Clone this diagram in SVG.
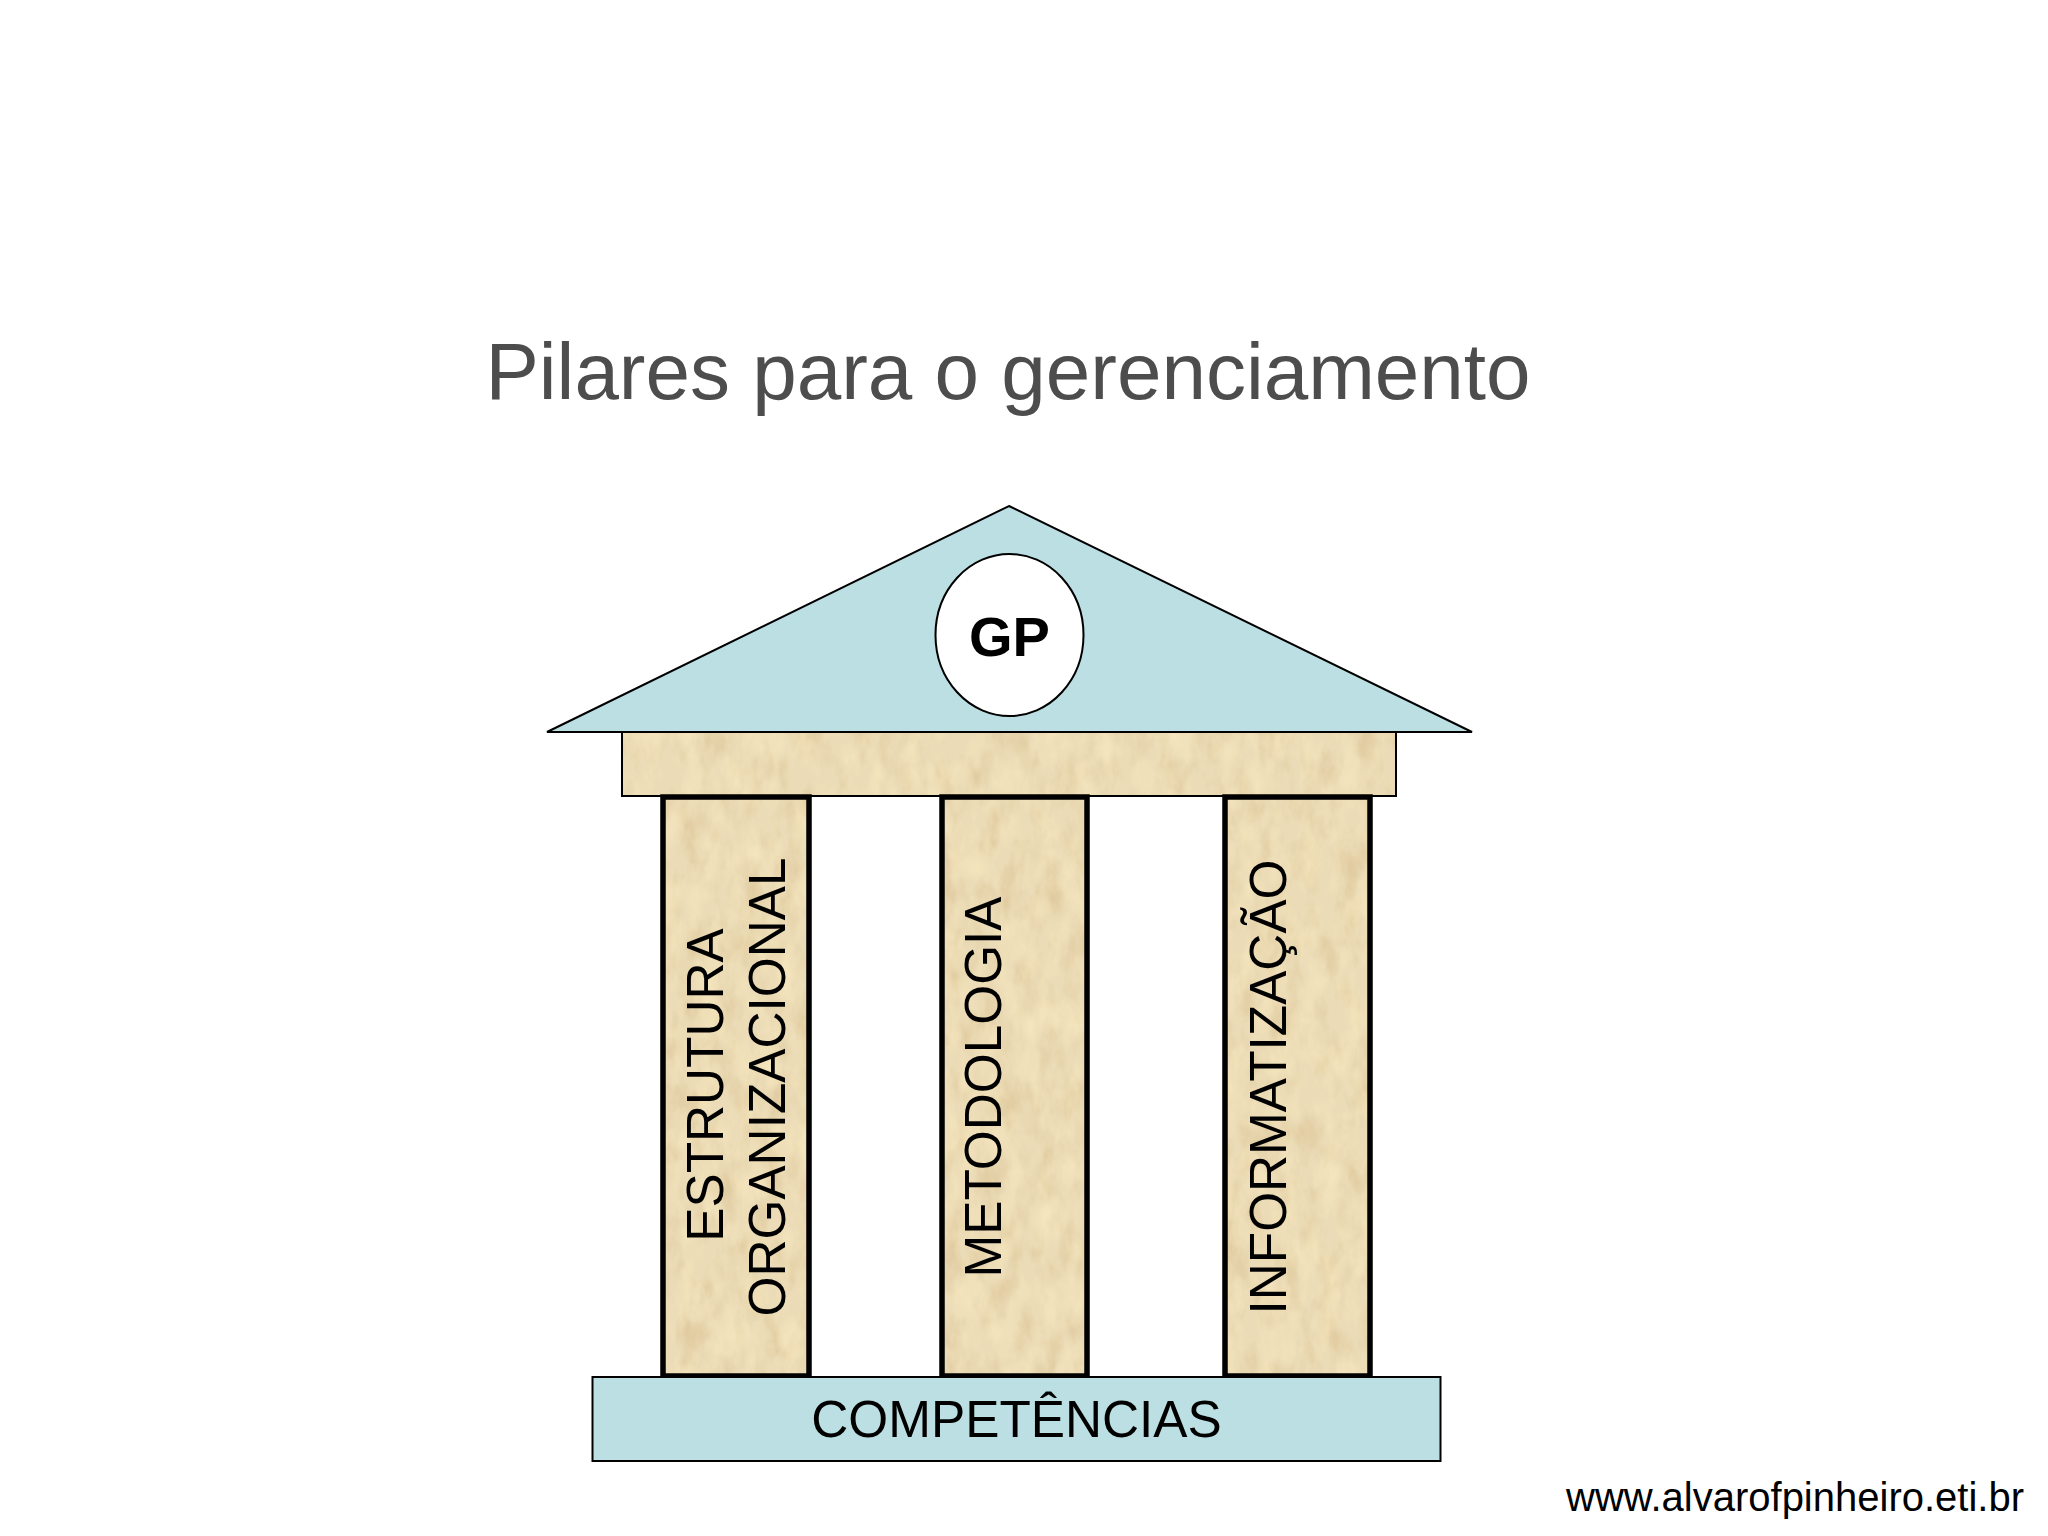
<svg xmlns="http://www.w3.org/2000/svg" width="2048" height="1536" viewBox="0 0 2048 1536">
<style>
text{font-family:"Liberation Sans",Arial,sans-serif;fill:#000}
.lbl{font-size:51.3px;text-anchor:middle}
.col{fill:none;stroke:#000;stroke-width:5.500}
.thin{stroke:#000;stroke-width:2}
.blue{fill:#bbdfe2}
.stone{fill:#ebdcb7}
</style>
<defs>
<filter id="stone" x="0" y="0" width="1" height="1" color-interpolation-filters="sRGB">
<feTurbulence type="fractalNoise" baseFrequency="0.05 0.025" numOctaves="4" seed="7" result="n"/>
<feColorMatrix in="n" type="matrix" values="0 0 0 0 0.85  0 0 0 0 0.74  0 0 0 0 0.55  1.2 0 0 0 -0.5" result="dark"/>
<feColorMatrix in="n" type="matrix" values="0 0 0 0 0.97  0 0 0 0 0.91  0 0 0 0 0.75  0 1.6 0 0 -0.65" result="light"/>
<feMerge result="m"><feMergeNode in="SourceGraphic"/><feMergeNode in="dark"/><feMergeNode in="light"/></feMerge>
<feComposite in="m" in2="SourceGraphic" operator="in"/>
</filter>
</defs>
<rect width="2048" height="1536" fill="#fff"/>
<text id="title" x="1008" y="399" font-size="80" text-anchor="middle" style="fill:#4d4d4d">Pilares para o gerenciamento</text>
<g id="telhado"><polygon class="blue thin" points="1009,506 1472,732 547,732"/></g>
<g id="gp"><ellipse cx="1009.500" cy="635" rx="74" ry="81" fill="#fff" class="thin"/><text x="1009.500" y="656" font-size="56" font-weight="bold" text-anchor="middle">GP</text></g>
<g id="viga"><rect class="stone" x="622" y="732" width="774" height="64" filter="url(#stone)"/><rect x="622" y="732" width="774" height="64" fill="none" class="thin"/></g>
<g id="pilar1"><rect class="stone" x="663" y="797" width="146" height="579" filter="url(#stone)"/><rect x="663" y="797" width="146" height="579" class="col"/>
<text class="lbl" transform="translate(723 1085) rotate(-90)">ESTRUTURA</text><text class="lbl" transform="translate(785 1087) rotate(-90)">ORGANIZACIONAL</text></g>
<g id="pilar2"><rect class="stone" x="942" y="797" width="145" height="579" filter="url(#stone)"/><rect x="942" y="797" width="145" height="579" class="col"/>
<text class="lbl" transform="translate(1001 1087) rotate(-90)">METODOLOGIA</text></g>
<g id="pilar3"><rect class="stone" x="1225" y="797" width="145" height="579" filter="url(#stone)"/><rect x="1225" y="797" width="145" height="579" class="col"/>
<text class="lbl" transform="translate(1286 1087) rotate(-90)">INFORMATIZAÇÃO</text></g>
<g id="base"><rect x="592.500" y="1377" width="848" height="84" class="blue thin"/><text class="lbl" x="1016.500" y="1437">COMPETÊNCIAS</text></g>
<text id="url" x="2024" y="1511" font-size="40" text-anchor="end">www.alvarofpinheiro.eti.br</text>
<g id="connectors"/>
</svg>
